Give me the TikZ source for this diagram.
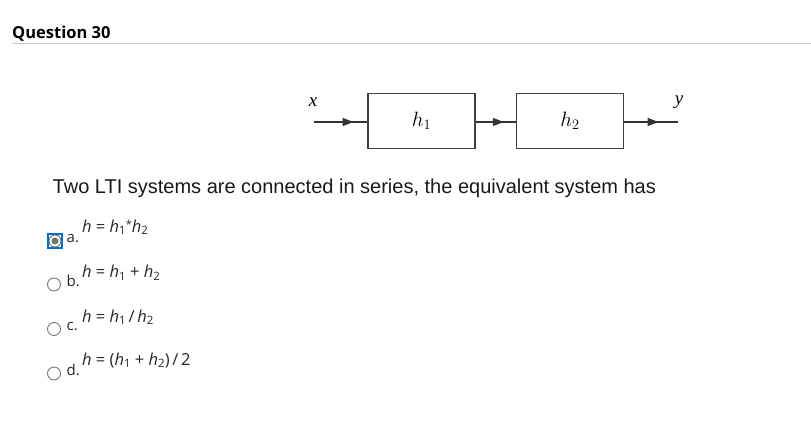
\documentclass[tikz,border=0pt]{standalone}
\usepackage{fontspec}
\usetikzlibrary{arrows.meta,decorations.markings}
\newfontfamily\osans{Open Sans}
\newfontfamily\lsans{Liberation Sans}
\newfontfamily\lserif{Liberation Serif}
\definecolor{selblue}{RGB}{0,110,200}
\definecolor{radiogray}{RGB}{120,120,120}
\newcommand{\hsub}[1]{{\itshape h}\raisebox{-0.3ex}{\fontsize{11.5pt}{11.5pt}\selectfont #1}}
\tikzset{
  blk/.style={draw=black!75, line width=1.1pt, minimum width=107pt, minimum height=55pt, inner sep=0pt},
  sig/.style={draw=black!80, line width=1.1pt, postaction={decorate},
    decoration={markings, mark=at position #1 with {\arrow{Triangle[length=11pt,width=8pt]}}}},
  radio/.style={draw=radiogray, line width=0.9pt, fill=white},
  opt/.style={anchor=base west, inner sep=0pt, font=\osans\fontsize{15pt}{15pt}\selectfont, text=black!85},
  frm/.style={anchor=base west, inner sep=0pt, font=\osans\fontsize{16.5pt}{16.5pt}\selectfont, text=black!85},
}
\begin{document}
\begin{tikzpicture}[x=1pt,y=-1pt]
\useasboundingbox (0,0) rectangle (811,425);
% heading
\node[anchor=base west, inner sep=0pt, font=\osans\bfseries\fontsize{16.5pt}{16.5pt}\selectfont] (head) at (12,39) {Question 30};
\coordinate (rulel) at (12,44);
\coordinate (ruler) at (811,44);
\draw[draw=black!22, line width=1pt] (rulel) -- (ruler);
% block diagram
\node[blk] (b1) at (421.5,121) {\fontsize{22pt}{22pt}\selectfont$h_1$};
\node[blk] (b2) at (570,121) {\fontsize{22pt}{22pt}\selectfont$h_2$};
\coordinate (in) at (314,122);
\coordinate (out) at (678,122);
\draw[sig=0.74] (in) -- (b1.west |- in);
\draw[sig=0.7] (b1.east |- in) -- (b2.west |- in);
\draw[sig=0.64] (b2.east |- in) -- (out);
\node[font=\lserif\itshape\fontsize{19pt}{19pt}\selectfont, inner sep=0pt] (xl) at (313,102) {x};
\node[font=\lserif\itshape\fontsize{19pt}{19pt}\selectfont, inner sep=0pt] (yl) at (679,102) {y};
% question
\node[anchor=base west, inner sep=0pt, font=\lsans\fontsize{20pt}{20pt}\selectfont, text=black!90] (q) at (52.5,193) {Two LTI systems are connected in series, the equivalent system has};
% option a (selected)
\node[draw=selblue, line width=2pt, minimum size=14pt, inner sep=0pt] (sela) at (55,241) {};
\node[radio, circle, minimum size=12pt, inner sep=0pt] (ra) at (sela.center) {};
\node[circle, fill=black!55, minimum size=7pt, inner sep=0pt] (da) at (ra.center) {};
\node[opt] (la) at (66.5,242) {a.};
\node[frm] (fa) at (82,232) {{\itshape h} = \hsub{1}\raisebox{0.45ex}{\fontsize{11pt}{11pt}\selectfont*}\hsub{2}};
% option b
\node[radio, circle, minimum size=13pt, inner sep=0pt] (rb) at (54,284.5) {};
\node[opt] (lb) at (66.5,286) {b.};
\node[frm] (fb) at (82,277.5) {{\itshape h} = \hsub{1} + \hsub{2}};
% option c
\node[radio, circle, minimum size=13pt, inner sep=0pt] (rc) at (54,329) {};
\node[opt] (lc) at (66.5,330) {c.};
\node[frm] (fc) at (82,322) {{\itshape h} = \hsub{1}\,/\,\hsub{2}};
% option d
\node[radio, circle, minimum size=13pt, inner sep=0pt] (rd) at (54,373.5) {};
\node[opt] (ld) at (66.5,375) {d.};
\node[frm] (fd) at (82,365) {{\itshape h} = (\hsub{1} + \hsub{2})\,/\,2};
\end{tikzpicture}
\end{document}
